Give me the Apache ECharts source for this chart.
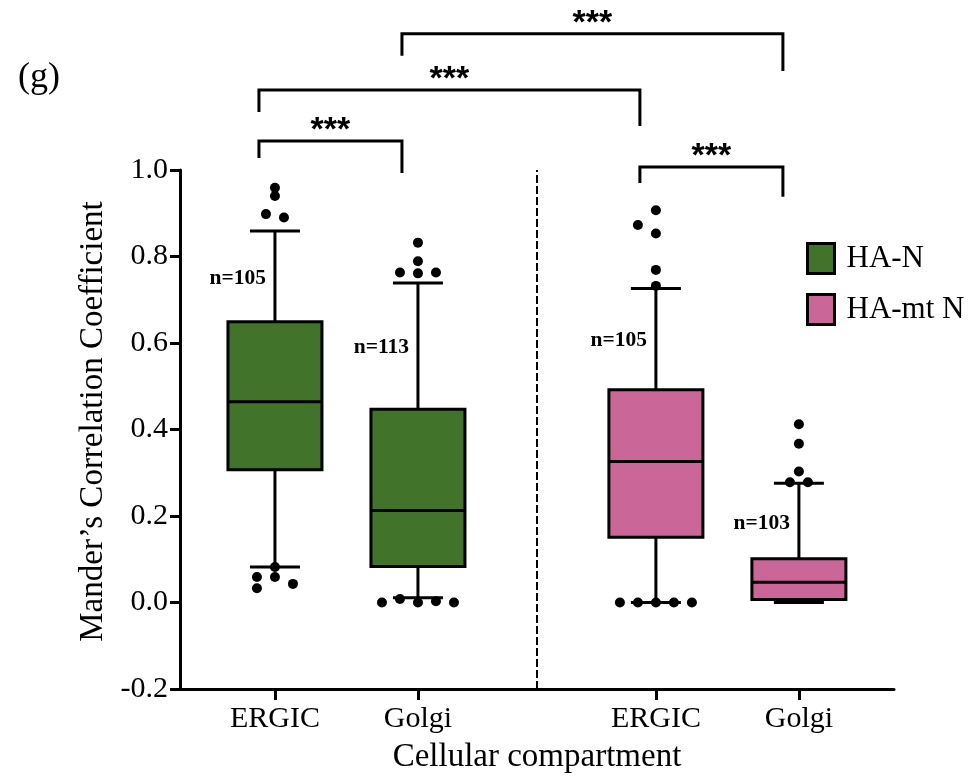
<!DOCTYPE html>
<html>
<head>
<meta charset="utf-8">
<script src="https://cdn.jsdelivr.net/npm/echarts@6/dist/echarts.min.js"></script>
<style>html,body{margin:0;padding:0;background:#fff}#c{width:970px;height:783px}</style>
</head>
<body>
<div id="c"></div>
<script>
// ---- data ----
const tickLabels = ['ERGIC', 'Golgi', 'ERGIC', 'Golgi'];
const xPos = [1, 2, 3.664, 4.664];
const separatorX = 2.832;
const groups = ['HA-N', 'HA-mt N'];
const boxGroup = [0, 0, 1, 1];
// [lowerCap, Q1, median, Q3, upperCap]
const boxStats = [
  [0.082, 0.307, 0.464, 0.649, 0.859],
  [0.011, 0.083, 0.213, 0.447, 0.739],
  [0.000, 0.151, 0.326, 0.492, 0.726],
  [0.000, 0.007, 0.047, 0.101, 0.276]
];
// outliers: [value, jitter slot]
const outliers = [
  [[0.959, 0], [0.940, 0], [0.898, -1], [0.890, 1], [0.082, 0], [0.059, -2], [0.059, 0], [0.043, 2], [0.033, -2]],
  [[0.832, 0], [0.789, 0], [0.763, -2], [0.761, 0], [0.763, 2], [0.000, -4], [0.008, -2], [0.000, 0], [0.003, 2], [0.000, 4]],
  [[0.907, 0], [0.873, -2], [0.853, 0], [0.769, 0], [0.732, 0], [0.000, -4], [0.000, -2], [0.000, 0], [0.000, 2], [0.000, 4]],
  [[0.412, 0], [0.367, 0], [0.303, 0], [0.278, -1], [0.278, 1]]
];
const nCounts = ['n=105', 'n=113', 'n=105', 'n=103'];
const nLabelY = [0.750, 0.590, 0.606, 0.183];
// significance brackets: [fromBox, toBox, lineY, leftLegEnd, rightLegEnd, label]
const brackets = [
  [1, 3, 1.315, 1.264, 1.229, '***'],
  [0, 2, 1.185, 1.134, 1.102, '***'],
  [0, 1, 1.067, 1.028, 0.993, '***'],
  [2, 3, 1.007, 0.970, 0.938, '***']
];
const yTicks = [-0.2, 0.0, 0.2, 0.4, 0.6, 0.8, 1.0];
const colors = ['#41742a', '#cb6698'];

// ---- chart ----
const FONT = '"Liberation Serif", "Times New Roman", serif';
const chart = echarts.init(document.getElementById('c'), null, {renderer: 'canvas'});

function boxRender(params, api) {
  const x = api.value(0);
  const pts = [1, 2, 3, 4, 5].map(i => api.coord([x, api.value(i)]));
  const cx = pts[0][0];
  const hb = 47, hc = 25;
  const ln = {stroke: '#000', lineWidth: 3};
  const lab = api.coord([x, api.value(7)]);
  return {
    type: 'group',
    children: [
      {type: 'line', shape: {x1: cx, y1: pts[0][1], x2: cx, y2: pts[1][1]}, style: ln},
      {type: 'line', shape: {x1: cx, y1: pts[3][1], x2: cx, y2: pts[4][1]}, style: ln},
      {type: 'line', shape: {x1: cx - hc, y1: pts[0][1], x2: cx + hc, y2: pts[0][1]}, style: ln},
      {type: 'line', shape: {x1: cx - hc, y1: pts[4][1], x2: cx + hc, y2: pts[4][1]}, style: ln},
      {type: 'rect', shape: {x: cx - hb, y: pts[3][1], width: hb * 2, height: pts[1][1] - pts[3][1]},
        style: {fill: api.visual('color'), stroke: '#000', lineWidth: 3}},
      {type: 'line', shape: {x1: cx - hb, y1: pts[2][1], x2: cx + hb, y2: pts[2][1]}, style: ln},
      {type: 'text', x: cx - 9, y: lab[1],
        style: {text: nCounts[api.value(6)], align: 'right', verticalAlign: 'middle',
          font: 'bold 21.5px ' + FONT, fill: '#000'}}
    ]
  };
}

const boxSeries = groups.map((g, gi) => ({
  type: 'custom',
  name: g,
  itemStyle: {color: colors[gi]},
  renderItem: boxRender,
  clip: false,
  encode: {x: 0, y: [1, 2, 3, 4, 5]},
  data: boxStats.map((s, i) => ({i, s})).filter(o => boxGroup[o.i] === gi)
    .map(o => [xPos[o.i], ...o.s, o.i, nLabelY[o.i]]),
  z: 2
}));

const outlierData = [];
outliers.forEach((list, i) => list.forEach(o => outlierData.push([xPos[i], o[0], o[1]])));

const outlierSeries = {
  type: 'custom',
  name: 'outliers',
  clip: false,
  renderItem: (params, api) => {
    const p = api.coord([api.value(0), api.value(1)]);
    return {type: 'circle', shape: {cx: p[0] + api.value(2) * 9, cy: p[1], r: 5}, style: {fill: '#000'}};
  },
  encode: {x: 0, y: 1},
  data: outlierData,
  z: 3
};

const bracketSeries = {
  type: 'custom',
  name: 'brackets',
  clip: false,
  renderItem: (params, api) => {
    const b = brackets[params.dataIndex];
    const off = -16;
    const a = api.coord([xPos[b[0]], b[2]]);
    const c = api.coord([xPos[b[1]], b[2]]);
    const la = api.coord([xPos[b[0]], b[3]]);
    const rc = api.coord([xPos[b[1]], b[4]]);
    const x1 = a[0] + off, x2 = c[0] + off;
    return {
      type: 'group',
      children: [
        {type: 'polyline', shape: {points: [[x1, la[1]], [x1, a[1]], [x2, c[1]], [x2, rc[1]]]},
          style: {stroke: '#000', lineWidth: 3, fill: null}},
        {type: 'text', x: (x1 + x2) / 2, y: a[1] - 10,
          style: {text: b[5], align: 'center', verticalAlign: 'middle',
            font: 'bold 34px "Liberation Sans", Arial, sans-serif', fill: '#000'}}
      ]
    };
  },
  data: brackets.map(b => [xPos[b[0]], b[2]]),
  markLine: {
    silent: true,
    symbol: ['none', 'none'],
    label: {show: false},
    lineStyle: {color: '#000', type: [8, 3], width: 2},
    data: [{xAxis: separatorX}]
  },
  z: 4
};

chart.setOption({
  backgroundColor: '#fff',
  animation: false,
  grid: {left: 180, right: 76, top: 170, bottom: 94, containLabel: false},
  legend: {
    left: 801, top: 237, orient: 'vertical',
    itemWidth: 27, itemHeight: 30, itemGap: 18,
    icon: 'rect',
    textStyle: {fontFamily: FONT, fontSize: 31, color: '#000', padding: [0, 0, 0, 7]},
    data: groups.map((g, gi) => ({name: g, itemStyle: {color: colors[gi], borderColor: '#000', borderWidth: 3}}))
  },
  graphic: [{
    type: 'text', left: 18, top: 60,
    style: {text: '(g)', font: '36px ' + FONT, fill: '#000'}
  }],
  xAxis: {
    type: 'value',
    min: 0.336, max: 5.329,
    name: 'Cellular compartment',
    nameLocation: 'middle',
    nameGap: 52,
    nameTextStyle: {fontFamily: FONT, fontSize: 33, color: '#000'},
    axisLine: {show: true, onZero: false, lineStyle: {color: '#000', width: 3}},
    axisTick: {show: true, customValues: xPos, length: 11, lineStyle: {color: '#000', width: 3}},
    axisLabel: {
      customValues: xPos, margin: 15, fontFamily: FONT, fontSize: 30, color: '#000',
      formatter: v => { const i = xPos.findIndex(p => Math.abs(p - v) < 1e-6); return i >= 0 ? tickLabels[i] : ''; }
    },
    splitLine: {show: false}
  },
  yAxis: {
    type: 'value',
    min: yTicks[0], max: yTicks[yTicks.length - 1], interval: 0.2,
    name: 'Mander\u2019s Correlation Coefficient',
    nameLocation: 'middle',
    nameGap: 62,
    nameTextStyle: {fontFamily: FONT, fontSize: 33, color: '#000', padding: [0, 0, 0, 16]},
    axisLine: {show: true, lineStyle: {color: '#000', width: 3}},
    axisTick: {show: true, length: 10, lineStyle: {color: '#000', width: 3}},
    axisLabel: {margin: 12, fontFamily: FONT, fontSize: 30, color: '#000', formatter: v => v.toFixed(1)},
    splitLine: {show: false}
  },
  series: [...boxSeries, outlierSeries, bracketSeries]
});
</script>
</body>
</html>
